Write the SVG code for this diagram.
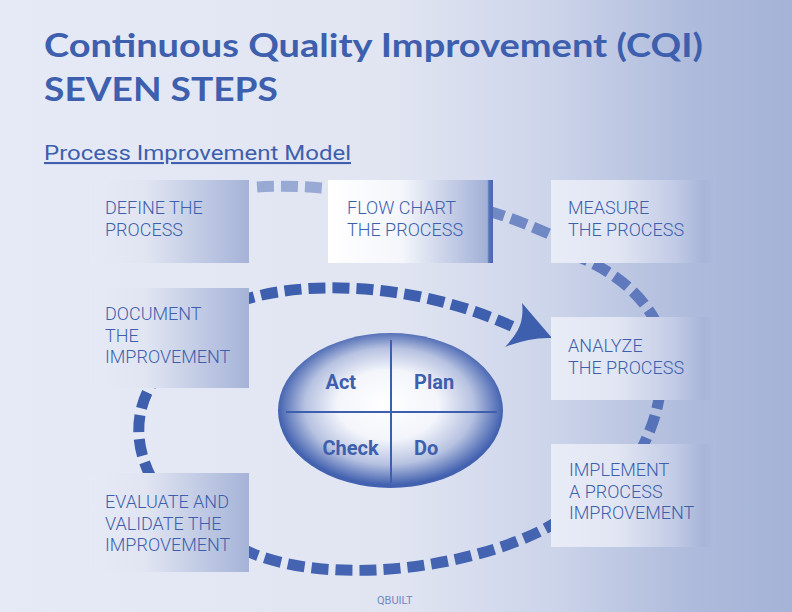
<svg xmlns="http://www.w3.org/2000/svg" width="792" height="612" viewBox="0 0 792 612">
  <defs>
    <linearGradient id="bg" x1="0" y1="0" x2="1" y2="0">
      <stop offset="0" stop-color="#e6eaf6"/>
      <stop offset="0.5" stop-color="#e1e5f2"/>
      <stop offset="0.7" stop-color="#ccd4ea"/>
      <stop offset="0.88" stop-color="#adbadb"/>
      <stop offset="1" stop-color="#a5b3d7"/>
    </linearGradient>
    <linearGradient id="leftBox" x1="0" y1="0" x2="1" y2="0">
      <stop offset="0" stop-color="#e6eaf6"/>
      <stop offset="0.35" stop-color="#e1e5f2"/>
      <stop offset="1" stop-color="#a5b3d8"/>
    </linearGradient>
    <linearGradient id="flowBox" x1="0" y1="0" x2="1" y2="0">
      <stop offset="0" stop-color="#ffffff"/>
      <stop offset="0.45" stop-color="#f4f6fb"/>
      <stop offset="0.8" stop-color="#bcc6e3"/>
      <stop offset="0.965" stop-color="#a2b0d6"/>
      <stop offset="0.975" stop-color="#5672b8"/>
      <stop offset="1" stop-color="#4a67b3"/>
    </linearGradient>
    <linearGradient id="rightBox" x1="0" y1="0" x2="1" y2="0">
      <stop offset="0" stop-color="#e8ecf7"/>
      <stop offset="0.4" stop-color="#e2e6f3"/>
      <stop offset="0.75" stop-color="#c2cbe6"/>
      <stop offset="0.92" stop-color="#a8b5d9"/>
      <stop offset="1" stop-color="#adbadb"/>
    </linearGradient>
    <radialGradient id="oval" cx="0.5" cy="0.48" r="0.5" fx="0.48" fy="0.45">
      <stop offset="0" stop-color="#ffffff"/>
      <stop offset="0.45" stop-color="#f3f5fb"/>
      <stop offset="0.75" stop-color="#b7c2e1"/>
      <stop offset="1" stop-color="#4261af"/>
    </radialGradient>
    <style>
      .dash { fill: none; stroke-width: 11; stroke-dasharray: 17 7; }
      .lbl { font-family: Roboto, "Liberation Sans", sans-serif; font-weight: 300; font-size: 18px; fill: #3d5fad; }
      .pdca { font-family: Roboto, "Liberation Sans", sans-serif; font-weight: 700; font-size: 20px; fill: #3d5fad; }
      .title { font-family: Lato, "Liberation Sans", sans-serif; font-weight: 700; font-size: 33px; fill: #3d5fad; }
    </style>
  </defs>

  <rect x="0" y="0" width="792" height="612" fill="url(#bg)"/>

  <text class="title" x="44" y="57" textLength="659" lengthAdjust="spacingAndGlyphs">Continuous Quality Improvement (CQI)</text>
  <text class="title" x="44" y="101" textLength="234" lengthAdjust="spacingAndGlyphs">SEVEN STEPS</text>
  <text x="44" y="160" font-family="Roboto, 'Liberation Sans', sans-serif" font-size="21" fill="#3d5fad" text-decoration="underline" textLength="307" lengthAdjust="spacingAndGlyphs">Process Improvement Model</text>

  <g id="connectors">
    <path class="dash" stroke="#98a9d4" d="M 257,187 C 285,185 315,187 345,190"/>
    <path class="dash" stroke="#7088c3" d="M 488,211 Q 522,221 562,240"/>
    <path class="dash" stroke="#6079bd" d="M 572,254 C 602,266 636,285 656,322"/>
    <path class="dash" stroke="#5672b8" d="M 660,392 C 657,414 651,430 640,452"/>
    <path class="dash" stroke="#4464b1" d="M 560,520 C 490,565 330,592 240,548"/>
    <path class="dash" stroke="#3d5fad" d="M 160,372 C 130,410 135,450 155,485"/>
    <path class="dash" stroke="#3d5fad" d="M 238,302 C 300,279 420,281 522,331"/>
    <path fill="#3d5fad" d="M 552,338 L 522,303 Q 524,318 518,330 Q 512,340 505,347 Q 530,337 552,338 Z"/>
  </g>

  <g id="define">
    <rect x="90" y="180" width="159" height="83" fill="url(#leftBox)"/>
    <text class="lbl" x="105" y="214">DEFINE THE<tspan x="105" dy="21.5">PROCESS</tspan></text>
  </g>
  <g id="flowchart">
    <rect x="328" y="180" width="165" height="83" fill="url(#flowBox)"/>
    <text class="lbl" x="347" y="214">FLOW CHART<tspan x="347" dy="21.5">THE PROCESS</tspan></text>
  </g>
  <g id="measure">
    <rect x="551" y="180" width="165" height="83" fill="url(#rightBox)"/>
    <text class="lbl" x="568" y="214">MEASURE<tspan x="568" dy="21.5">THE PROCESS</tspan></text>
  </g>
  <g id="analyze">
    <rect x="551" y="317" width="165" height="83" fill="url(#rightBox)"/>
    <text class="lbl" x="568" y="352">ANALYZE<tspan x="568" dy="21.5">THE PROCESS</tspan></text>
  </g>
  <g id="implement">
    <rect x="551" y="444" width="165" height="103" fill="url(#rightBox)"/>
    <text class="lbl" x="569" y="476">IMPLEMENT<tspan x="569" dy="21.5">A PROCESS</tspan><tspan x="569" dy="21.5">IMPROVEMENT</tspan></text>
  </g>
  <g id="evaluate">
    <rect x="90" y="473" width="159" height="99" fill="url(#leftBox)"/>
    <text class="lbl" x="105" y="508">EVALUATE AND<tspan x="105" dy="21.5">VALIDATE THE</tspan><tspan x="105" dy="21.5">IMPROVEMENT</tspan></text>
  </g>
  <g id="document">
    <rect x="90" y="288" width="159" height="100" fill="url(#leftBox)"/>
    <text class="lbl" x="105" y="320">DOCUMENT<tspan x="105" dy="21.5">THE</tspan><tspan x="105" dy="21.5">IMPROVEMENT</tspan></text>
  </g>

  <g id="pdca">
    <ellipse cx="390.5" cy="410.5" rx="112.5" ry="77.5" fill="url(#oval)"/>
    <line x1="391" y1="340" x2="391" y2="483" stroke="#3d5fad" stroke-width="2"/>
    <line x1="286" y1="412" x2="497" y2="412" stroke="#3d5fad" stroke-width="2"/>
    <text class="pdca" x="325.5" y="389">Act</text>
    <text class="pdca" x="414" y="389">Plan</text>
    <text class="pdca" x="322.5" y="455">Check</text>
    <text class="pdca" x="414" y="455">Do</text>
  </g>

  <text x="377" y="604" font-family="Roboto, 'Liberation Sans', sans-serif" font-size="11" fill="#6f87c2">QBUILT</text>
</svg>
